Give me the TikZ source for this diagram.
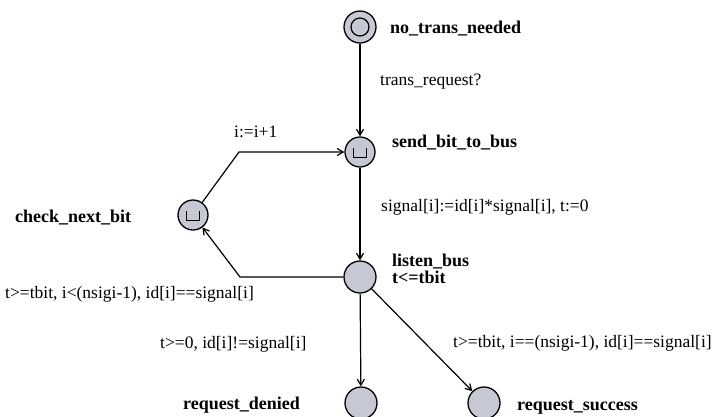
\documentclass[tikz,border=0pt]{standalone}
\usepackage{fontspec}
\setmainfont{Liberation Serif}
\usetikzlibrary{arrows.meta}
\definecolor{locfill}{HTML}{C6C9D4}
\tikzset{
  loc/.style={circle,draw=black,line width=1.3pt,fill=locfill,minimum size=30pt,inner sep=0pt},
  locname/.style={anchor=base west,inner sep=0pt,font=\fontsize{18}{17}\selectfont\bfseries},
  guard/.style={anchor=base west,inner sep=0pt,font=\fontsize{17.5}{17}\selectfont},
  edge/.style={draw=black,line width=1.2pt,-{Straight Barb[length=6pt,width=7pt]}},
  urg/.pic={\draw[line width=0.9pt] (-6.5,-4) -- (-6.5,5) -- (6.5,5) -- (6.5,-4);}
}
\begin{document}
\begin{tikzpicture}[x=1pt,y=-1pt]
\useasboundingbox (0,0) rectangle (723,416);
% locations
\node[loc,minimum size=32pt] (ntn) at (360,27) {};
\draw[line width=1.2pt] (ntn.center) circle (9);
\node[loc] (sbb) at (360,152) {};
\pic at (sbb.center) {urg};
\node[loc] (cnb) at (193,215) {};
\pic at (cnb.center) {urg};
\node[loc,minimum size=32pt] (lb) at (360,277) {};
\node[loc,minimum size=32pt] (rd) at (361,403) {};
\node[loc,minimum size=32pt] (rs) at (484,403) {};
% names
\node[locname] (ntnl) at (390,33) {no\_trans\_needed};
\node[locname] (sbbl) at (392,147) {send\_bit\_to\_bus};
\node[locname] (cnbl) at (15,222) {check\_next\_bit};
\node[locname] (lbl) at (392,266) {listen\_bus};
\node[locname] (lbi) at (392,283) {t<=tbit};
\node[locname] (rdl) at (183,409) {request\_denied};
\node[locname] (rsl) at (517,410) {request\_success};
% corners
\coordinate (c1) at (239,152);
\coordinate (c2) at (240,277);
% edges
\draw[edge] (ntn) -- (sbb);
\draw[edge] (sbb) -- (lb);
\draw[edge] (lb.west) -- (c2) -- (cnb);
\draw[edge] (cnb) -- (c1) -- (sbb.west);
\draw[edge] (lb) -- (rd);
\draw[edge] (lb) -- (rs);
% labels
\node[guard] (g1) at (380,85) {trans\_request?};
\node[guard] (g2) at (381,211) {signal[i]:=id[i]*signal[i], t:=0};
\node[guard] (g3) at (234,137) {i:=i+1};
\node[guard] (g4) at (5,298) {t>=tbit, i<(nsigi-1), id[i]==signal[i]};
\node[guard] (g5) at (160,348) {t>=0, id[i]!=signal[i]};
\node[guard] (g6) at (453,347) {t>=tbit, i==(nsigi-1), id[i]==signal[i]};
\end{tikzpicture}
\end{document}
